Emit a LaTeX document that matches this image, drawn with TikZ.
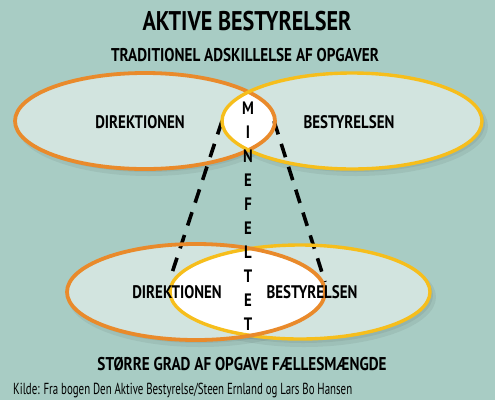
\documentclass[tikz,border=0pt]{standalone}
\usepackage{fontspec}
\setmainfont{PT Sans}
\newfontfamily\condfont[FakeStretch=0.82]{PT Sans}
\newfontfamily\narrowfont[FakeStretch=0.68]{PT Sans}
\usetikzlibrary{positioning, calc, backgrounds}
\definecolor{bgteal}{HTML}{A8CCC4}
\definecolor{palefill}{HTML}{D2E4DF}
\definecolor{dirorange}{HTML}{E98A2B}
\definecolor{bestyellow}{HTML}{F6BE1C}

\begin{document}
\begin{tikzpicture}[
    x=1pt, y=-1pt,
    head/.style={font=\condfont\bfseries\fontsize{27}{29}\selectfont, inner sep=0pt, anchor=base},
    subhead/.style={font=\condfont\bfseries\fontsize{18.5}{20}\selectfont, inner sep=0pt, anchor=base},
    label/.style={font=\condfont\bfseries\fontsize{18.2}{20}\selectfont, inner sep=0pt, anchor=base},
    letter/.style={font=\condfont\bfseries\fontsize{18}{20}\selectfont, inner sep=0pt, anchor=base},
    source/.style={font=\narrowfont\fontsize{16}{18}\selectfont, inner sep=0pt, anchor=base west},
    dirline/.style={draw=dirorange, line width=3.8pt},
    bestline/.style={draw=bestyellow, line width=3.4pt},
    minedash/.style={line width=3.6pt, dash pattern=on 14pt off 10pt}
]

% Background
\fill[bgteal] (0,0) rectangle (495,400);
\useasboundingbox (0,0) rectangle (495,400);

% Shadows
\foreach \cx/\cy in {145/121, 352/121, 196/292, 300/292}{
    \fill[black, opacity=0.06] (\cx+4,\cy+5) ellipse [x radius=132, y radius=50];
    \fill[black, opacity=0.06] (\cx+3,\cy+3) ellipse [x radius=130, y radius=48];
}

% Ellipses
\coordinate (dirTop) at (145,121);
\coordinate (bestTop) at (352,121);
\coordinate (dirBot) at (196,292);
\coordinate (bestBot) at (300,292);

\fill[palefill] (dirTop) ellipse [x radius=130, y radius=48];
\fill[palefill] (bestTop) ellipse [x radius=130, y radius=48];
\fill[palefill] (dirBot) ellipse [x radius=129, y radius=48];
\fill[palefill] (bestBot) ellipse [x radius=130, y radius=47];

% Overlap
\begin{scope}
    \clip (dirTop) ellipse [x radius=130, y radius=48];
    \fill[white] (bestTop) ellipse [x radius=130, y radius=48];
\end{scope}
\begin{scope}
    \clip (dirBot) ellipse [x radius=129, y radius=48];
    \fill[white] (bestBot) ellipse [x radius=130, y radius=47];
\end{scope}

% Dashed lines
\coordinate (lensTopL) at (222,121);
\coordinate (lensTopR) at (274,121);
\coordinate (lensBotL) at (172,273);
\coordinate (lensBotR) at (325,282);
\draw[minedash] (lensTopL) -- (lensBotL);
\draw[minedash] (lensTopR) -- (lensBotR);

% Outlines
\draw[dirline] (dirTop) ellipse [x radius=130, y radius=48];
\draw[bestline] (bestTop) ellipse [x radius=130, y radius=48];
\draw[bestline] (bestBot) ellipse [x radius=130, y radius=47];
\draw[dirline] (dirBot) ellipse [x radius=129, y radius=48];

% Texts
\node[head] (title) at (247,30) {AKTIVE BESTYRELSER};
\node[subhead] (trad) at (245,61) {TRADITIONEL ADSKILLELSE AF OPGAVER};
\node[label] (dirTxtTop) at (140,128) {DIREKTIONEN};
\node[label] (bestTxtTop) at (349,128) {BESTYRELSEN};
\node[label] (dirTxtBot) at (177,298) {DIREKTIONEN};
\node[label] (bestTxtBot) at (312,298) {BESTYRELSEN};
\node[subhead] (stoerre) at (242,370) {STØRRE GRAD AF OPGAVE FÆLLESMÆNGDE};
\node[source] (kilde) at (13,394) {Kilde: Fra bogen Den Aktive Bestyrelse/Steen Ernland og Lars Bo Hansen};

% Minefeltet
\foreach \ch [count=\i] in {M,I,N,E,F,E,L,T,E,T}
    \node[letter] (mine\i) at (248,{114+24.1*(\i-1)}) {\ch};

\end{tikzpicture}
\end{document}
